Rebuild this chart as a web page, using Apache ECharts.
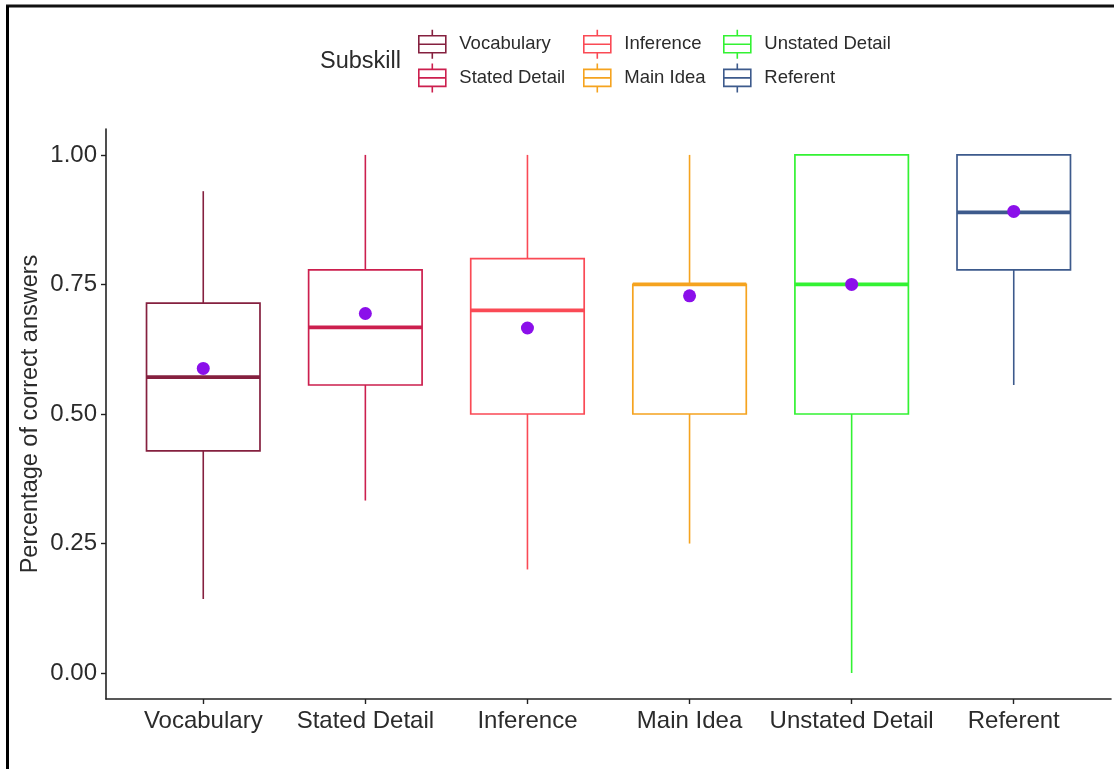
<!DOCTYPE html>
<html>
<head>
<meta charset="utf-8">
<title>Percentage of correct answers by subskill</title>
<script src="https://cdn.jsdelivr.net/npm/echarts@6/dist/echarts.min.js"></script>
<style>
  html, body { margin: 0; padding: 0; background: #ffffff; }
  #chart { width: 1114px; height: 769px; }
</style>
</head>
<body>
<div id="chart"></div>
<script>
// Subskills shown along the x axis
const categories = ['Vocabulary', 'Stated Detail', 'Inference', 'Main Idea', 'Unstated Detail', 'Referent'];

// Five-number summaries per subskill (share of correct answers)
const whiskerLow  = [0.143, 0.333, 0.20, 0.25, 0.00, 0.556];
const quartile1   = [0.429, 0.556, 0.50, 0.50, 0.50, 0.778];
const medians     = [0.571, 0.667, 0.70, 0.75, 0.75, 0.889];
const quartile3   = [0.714, 0.778, 0.80, 0.75, 1.00, 1.00];
const whiskerHigh = [0.930, 1.000, 1.00, 1.00, 1.00, 1.00];

// Mean share of correct answers per subskill
const means = [0.588, 0.694, 0.666, 0.728, 0.750, 0.891];

// Y axis tick values
const yTicks = [0, 0.25, 0.5, 0.75, 1];

// Styling
const colors = ['#85203F', '#CC1F4E', '#FA4A55', '#F5A31F', '#33F233', '#3D5A8C'];
const meanColor = '#8B0FEA';
const textColor = '#2b2b2b';
const FONT = 'Liberation Sans, Arial, sans-serif';
const BOX_WIDTH = 0.7;      // in category units
const boxIcon = 'path://M13.5,0V6M0,6H27V23H0ZM0,14.5H27M13.5,23V29';

const chart = echarts.init(document.getElementById('chart'), null, { renderer: 'canvas' });

function renderBox(params, api) {
  const x = api.value(0);
  const lo = api.coord([x, api.value(1)]);
  const q1 = api.coord([x, api.value(2)]);
  const md = api.coord([x, api.value(3)]);
  const q3 = api.coord([x, api.value(4)]);
  const hi = api.coord([x, api.value(5)]);
  const half = api.size([BOX_WIDTH, 0])[0] / 2;
  const color = api.visual('color');
  return {
    type: 'group',
    children: [
      { type: 'line', shape: { x1: lo[0], y1: lo[1], x2: q1[0], y2: q1[1] },
        style: { stroke: color, lineWidth: 1.6 } },
      { type: 'line', shape: { x1: q3[0], y1: q3[1], x2: hi[0], y2: hi[1] },
        style: { stroke: color, lineWidth: 1.6 } },
      { type: 'rect', shape: { x: q3[0] - half, y: q3[1], width: half * 2, height: q1[1] - q3[1] },
        style: { fill: '#ffffff', stroke: color, lineWidth: 1.7 } },
      { type: 'line', shape: { x1: md[0] - half, y1: md[1], x2: md[0] + half, y2: md[1] },
        style: { stroke: color, lineWidth: 3.8 } }
    ]
  };
}

const boxSeries = categories.map((name, i) => ({
  name: name,
  type: 'custom',
  renderItem: renderBox,
  itemStyle: { color: colors[i] },
  encode: { x: 0, y: [1, 2, 3, 4, 5] },
  data: [[i, whiskerLow[i], quartile1[i], medians[i], quartile3[i], whiskerHigh[i]]],
  z: 2
}));

const meanSeries = {
  name: 'Mean',
  type: 'scatter',
  symbol: 'circle',
  symbolSize: 13,
  itemStyle: { color: meanColor, opacity: 1 },
  data: means.map((m, i) => [i, m]),
  z: 5
};

function legendBlock(left, names) {
  return {
    orient: 'vertical',
    left: left,
    top: 29,
    padding: 0,
    itemWidth: 44,
    itemHeight: 29,
    itemGap: 3,
    symbolKeepAspect: true,
    textStyle: { fontFamily: FONT, fontSize: 18.5, color: textColor },
    data: names.map(n => ({
      name: n,
      icon: boxIcon,
      itemStyle: { color: 'rgba(0,0,0,0)', borderColor: colors[categories.indexOf(n)], borderWidth: 1.6 }
    }))
  };
}

const option = {
  backgroundColor: '#ffffff',
  animation: false,
  title: {
    text: 'Subskill',
    left: 320,
    top: 50,
    padding: 0,
    textStyle: { fontFamily: FONT, fontSize: 23.5, fontWeight: 'normal', color: textColor }
  },
  legend: [
    legendBlock(418, [categories[0], categories[1]]),
    legendBlock(583, [categories[2], categories[3]]),
    legendBlock(723, [categories[4], categories[5]])
  ],
  grid: { left: 106, right: 3, top: 129, bottom: 70, containLabel: false },
  xAxis: {
    type: 'value',
    min: -0.6,
    max: categories.length - 0.4,
    splitLine: { show: false },
    axisLine: { show: true, onZero: false, lineStyle: { color: '#222', width: 1.6 } },
    axisTick: { show: true, length: 5, customValues: categories.map((c, i) => i), lineStyle: { color: '#222', width: 1.4 } },
    axisLabel: {
      customValues: categories.map((c, i) => i),
      formatter: v => categories[Math.round(v)] || '',
      margin: 10,
      fontFamily: FONT,
      fontSize: 24,
      color: textColor
    }
  },
  yAxis: {
    type: 'value',
    min: -0.05,
    max: 1.05,
    splitLine: { show: false },
    name: 'Percentage of correct answers',
    nameLocation: 'middle',
    nameGap: 63,
    nameMoveOverlap: false,
    nameTextStyle: { fontFamily: FONT, fontSize: 23.5, color: textColor },
    axisLine: { show: true, onZero: false, lineStyle: { color: '#222', width: 1.6 } },
    axisTick: { show: true, length: 5, customValues: yTicks, lineStyle: { color: '#222', width: 1.4 } },
    axisLabel: {
      customValues: yTicks,
      formatter: v => v.toFixed(2),
      margin: 9,
      fontFamily: FONT,
      fontSize: 24,
      color: textColor
    }
  },
  graphic: [
    { type: 'line', shape: { x1: 6, y1: 6, x2: 1114, y2: 6 }, style: { stroke: '#111', lineWidth: 3 }, silent: true },
    { type: 'line', shape: { x1: 7.5, y1: 6, x2: 7.5, y2: 769 }, style: { stroke: '#000', lineWidth: 3 }, silent: true }
  ],
  series: boxSeries.concat([meanSeries])
};

chart.setOption(option);
</script>
</body>
</html>
